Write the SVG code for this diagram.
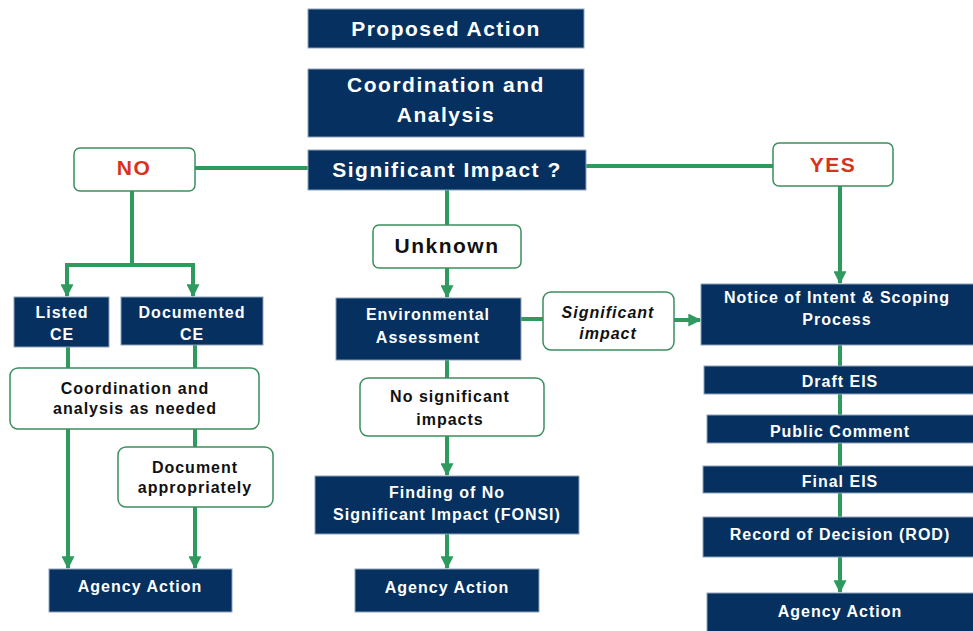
<svg xmlns="http://www.w3.org/2000/svg" width="973" height="631" viewBox="0 0 973 631">
<style>
.nv{fill:#05305f;stroke:#8ea3bb;stroke-width:1}
.wb{fill:#ffffff;stroke:#3b8f5c;stroke-width:1.5}
.c{fill:none;stroke:#2f9a5e;stroke-width:4}
text{font-family:"Liberation Sans",Arial,sans-serif;font-weight:bold;text-anchor:middle}
.tw{fill:#ffffff}
.tb{fill:#111111}
.tr{fill:#d8321a}
.big{font-size:21px;letter-spacing:1.5px}
.med{font-size:16px;letter-spacing:1px}
</style>
<defs>
<marker id="ah" viewBox="0 0 10 10" refX="9" refY="5" markerWidth="13" markerHeight="13" markerUnits="userSpaceOnUse" orient="auto">
<path d="M0,0 L10,5 L0,10 z" fill="#2f9a5e"/>
</marker>
</defs>
<rect width="973" height="631" fill="#ffffff"/>
<g id="connectors">
<path class="c" d="M308,168 H195"/>
<path class="c" d="M132,191 V265"/>
<path class="c" d="M65,265 H195"/>
<path class="c" d="M67,263 V296" marker-end="url(#ah)"/>
<path class="c" d="M193,263 V296" marker-end="url(#ah)"/>
<path class="c" d="M68,347 V368"/>
<path class="c" d="M195,345 V368"/>
<path class="c" d="M68,429 V568" marker-end="url(#ah)"/>
<path class="c" d="M195,429 V447"/>
<path class="c" d="M195,507 V568" marker-end="url(#ah)"/>
<path class="c" d="M447,190 V225"/>
<path class="c" d="M447,268 V297" marker-end="url(#ah)"/>
<path class="c" d="M521,319 H543"/>
<path class="c" d="M674,320 H700" marker-end="url(#ah)"/>
<path class="c" d="M447,360 V378"/>
<path class="c" d="M447,436 V475" marker-end="url(#ah)"/>
<path class="c" d="M447,534 V568" marker-end="url(#ah)"/>
<path class="c" d="M586,166 H773"/>
<path class="c" d="M840,186 V283" marker-end="url(#ah)"/>
<path class="c" d="M840,345 V592" marker-end="url(#ah)"/>
</g>
<g id="proposed">
<rect class="nv" x="308" y="9" width="276" height="39"/>
<text class="tw big" x="446" y="36">Proposed Action</text>
</g>
<g id="coordination">
<rect class="nv" x="308" y="69" width="276" height="68"/>
<text class="tw big" x="446" y="92">Coordination and</text>
<text class="tw big" x="446" y="122">Analysis</text>
</g>
<g id="significant">
<rect class="nv" x="308" y="150" width="278" height="40"/>
<text class="tw big" x="447" y="177">Significant Impact ?</text>
</g>
<g id="no">
<rect class="wb" x="74" y="148" width="121" height="43" rx="6"/>
<text class="tr big" x="134" y="175">NO</text>
</g>
<g id="yes">
<rect class="wb" x="773" y="143" width="120" height="43" rx="6"/>
<text class="tr big" x="833" y="172">YES</text>
</g>
<g id="listed-ce">
<rect class="nv" x="14" y="297" width="95" height="50"/>
<text class="tw med" x="62" y="318">Listed</text>
<text class="tw med" x="62" y="340">CE</text>
</g>
<g id="documented-ce">
<rect class="nv" x="121" y="297" width="142" height="48"/>
<text class="tw med" x="192" y="318">Documented</text>
<text class="tw med" x="192" y="340">CE</text>
</g>
<g id="coord-needed">
<rect class="wb" x="10" y="368" width="249" height="61" rx="8"/>
<text class="tb med" x="135" y="394">Coordination and</text>
<text class="tb med" x="135" y="414">analysis as needed</text>
</g>
<g id="document">
<rect class="wb" x="118" y="447" width="155" height="60" rx="8"/>
<text class="tb med" x="195" y="473">Document</text>
<text class="tb med" x="195" y="493">appropriately</text>
</g>
<g id="agency-left">
<rect class="nv" x="49" y="569" width="183" height="43"/>
<text class="tw med" x="140" y="592">Agency Action</text>
</g>
<g id="unknown">
<rect class="wb" x="373" y="225" width="148" height="43" rx="6"/>
<text class="tb big" x="447" y="253">Unknown</text>
</g>
<g id="ea">
<rect class="nv" x="336" y="298" width="185" height="62"/>
<text class="tw med" x="428" y="320">Environmental</text>
<text class="tw med" x="428" y="343">Assessment</text>
</g>
<g id="sig-impact">
<rect class="wb" x="543" y="292" width="131" height="58" rx="8"/>
<text class="tb med" x="608" y="318" font-style="italic">Significant</text>
<text class="tb med" x="608" y="339" font-style="italic">impact</text>
</g>
<g id="noi">
<rect class="nv" x="701" y="284" width="280" height="61"/>
<text class="tw med" x="837" y="303">Notice of Intent &amp; Scoping</text>
<text class="tw med" x="837" y="325">Process</text>
</g>
<g id="no-sig">
<rect class="wb" x="360" y="378" width="184" height="58" rx="8"/>
<text class="tb med" x="450" y="402">No significant</text>
<text class="tb med" x="450" y="425">impacts</text>
</g>
<g id="fonsi">
<rect class="nv" x="315" y="476" width="264" height="58"/>
<text class="tw med" x="447" y="498">Finding of No</text>
<text class="tw med" x="447" y="520">Significant Impact (FONSI)</text>
</g>
<g id="agency-center">
<rect class="nv" x="355" y="569" width="184" height="43"/>
<text class="tw med" x="447" y="593">Agency Action</text>
</g>
<g id="draft-eis">
<rect class="nv" x="704" y="366" width="277" height="28"/>
<text class="tw med" x="840" y="387">Draft EIS</text>
</g>
<g id="public-comment">
<rect class="nv" x="707" y="415" width="274" height="28"/>
<text class="tw med" x="840" y="437">Public Comment</text>
</g>
<g id="final-eis">
<rect class="nv" x="703" y="466" width="278" height="27"/>
<text class="tw med" x="840" y="487">Final EIS</text>
</g>
<g id="rod">
<rect class="nv" x="703" y="517" width="278" height="40"/>
<text class="tw med" x="840" y="540">Record of Decision (ROD)</text>
</g>
<g id="agency-right">
<rect class="nv" x="707" y="593" width="274" height="45"/>
<text class="tw med" x="840" y="617">Agency Action</text>
</g>
</svg>
